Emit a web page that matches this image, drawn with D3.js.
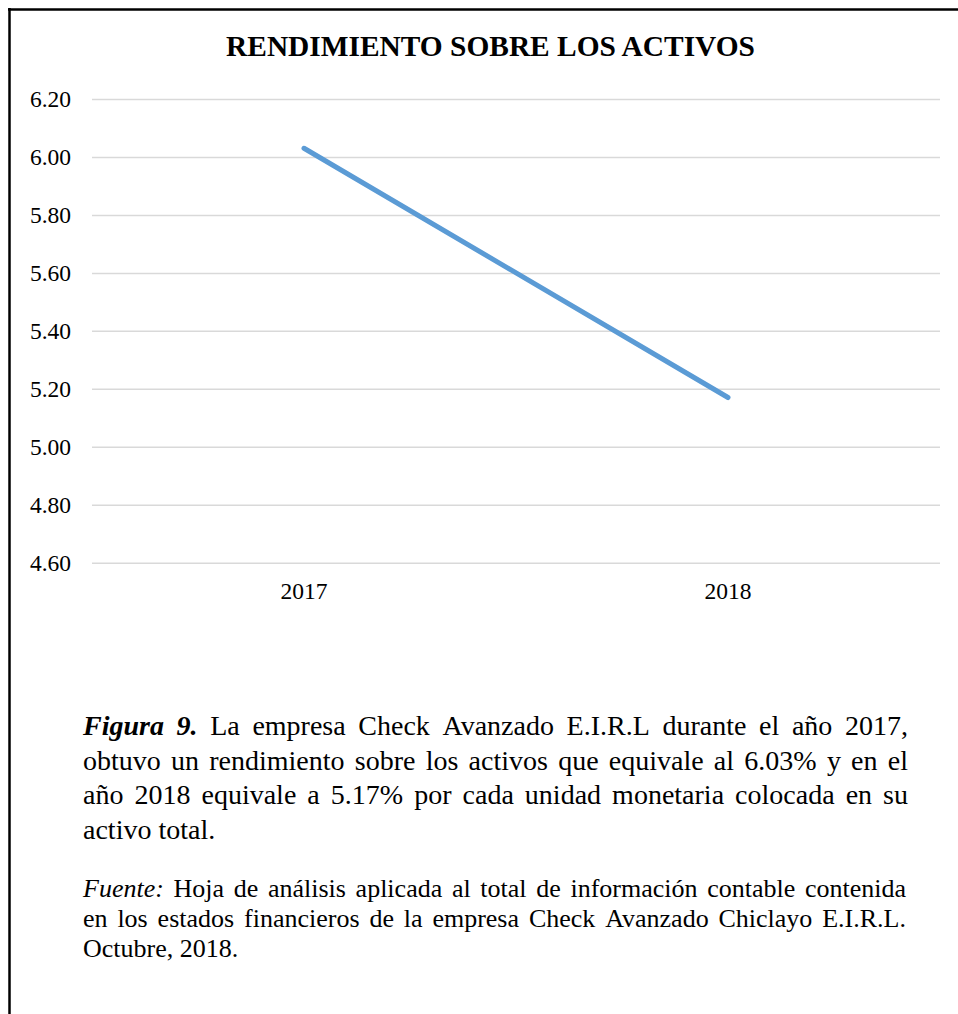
<!DOCTYPE html>
<html>
<head>
<meta charset="utf-8">
<script src="https://cdn.jsdelivr.net/npm/d3@7"></script>
<style>
  body { margin: 0; background: #fff; }
  svg text { font-family: "Liberation Serif", "Times New Roman", serif; fill: #000; }
</style>
</head>
<body>
<div id="chart"></div>
<script>
// Chart Data
const years = ["2017", "2018"];
const roa = [6.03, 5.17];
const yTicks = [4.6, 4.8, 5.0, 5.2, 5.4, 5.6, 5.8, 6.0, 6.2];
const title = "RENDIMIENTO SOBRE LOS ACTIVOS";

// Caption Lines (first words styled separately)
const captionLines = [
  "Figura 9. La empresa Check Avanzado E.I.R.L durante el año 2017,",
  "obtuvo un rendimiento sobre los activos que equivale al 6.03% y en el",
  "año 2018 equivale a 5.17% por cada unidad monetaria colocada en su",
  "activo total."
];
const sourceLines = [
  "Fuente: Hoja de análisis aplicada al total de información contable contenida",
  "en los estados financieros de la empresa Check Avanzado Chiclayo E.I.R.L.",
  "Octubre, 2018."
];

let w = 958, h = 1014;
let svg = d3.select("#chart").append("svg").attr("width", w).attr("height", h);

// Frame (top and left only)
svg.append("line").attr("x1", 8).attr("x2", w).attr("y1", 9.5).attr("y2", 9.5)
  .attr("stroke", "#000").attr("stroke-width", 2.5);
svg.append("line").attr("x1", 9.5).attr("x2", 9.5).attr("y1", 8).attr("y2", h)
  .attr("stroke", "#000").attr("stroke-width", 2.5);

// Scales
let x = d3.scaleBand().domain(years).range([92, 940]);
let y = d3.scaleLinear().domain([4.6, 6.2]).range([562.7, 99]);

// Title
svg.append("text").attr("x", 490.5).attr("y", 56).attr("text-anchor", "middle")
  .attr("font-weight", "bold").attr("font-size", 29.4).text(title);

// Gridlines + Y labels
let yAxis = d3.axisLeft(y).tickValues(yTicks).tickFormat(d3.format(".2f"))
  .tickSize(-(x.range()[1] - x.range()[0])).tickPadding(21);
let gy = svg.append("g").attr("transform", "translate(92,0)").call(yAxis)
  .attr("font-family", null).attr("font-size", 23.5);
gy.select(".domain").remove();
gy.selectAll(".tick line").attr("stroke", "#d9d9d9").attr("stroke-width", 1.5);
gy.selectAll(".tick text").attr("fill", "#000");

// X labels
let xAxis = d3.axisBottom(x).tickSize(0).tickPadding(20);
let gx = svg.append("g").attr("transform", "translate(0," + y(4.6) + ")").call(xAxis)
  .attr("font-family", null).attr("font-size", 23.5);
gx.select(".domain").remove();
gx.selectAll(".tick text").attr("fill", "#000");

// Series line
let line = d3.line().x((d, i) => x(years[i]) + x.bandwidth() / 2).y((d) => y(d));
svg.append("path").datum(roa).attr("d", line).attr("fill", "none")
  .attr("stroke", "#5b9bd5").attr("stroke-width", 5).attr("stroke-linecap", "round");

// Justified Paragraph Drawn Word By Word
function paragraph(lines, x0, x1, y0, lh, size, firstStyle) {
  let g = svg.append("g").attr("font-size", size);
  lines.forEach((t, li) => {
    let words = t.split(" ");
    let nodes = words.map((wd, wi) => {
      let el = g.append("text").attr("y", y0 + li * lh).text(wd);
      if (li == 0 && wi < firstStyle.count) {
        if (firstStyle.bold) el.attr("font-weight", "bold");
        el.attr("font-style", "italic");
      }
      return el;
    });
    let widths = nodes.map((n) => n.node().getComputedTextLength());
    let total = d3.sum(widths);
    let space = size * 0.25;
    let gap = (li < lines.length - 1 && words.length > 1) ? (x1 - x0 - total) / (words.length - 1) : space;
    let cx = x0;
    nodes.forEach((n, i) => { n.attr("x", cx); cx += widths[i] + gap; });
  });
}

paragraph(captionLines, 83, 908, 735, 34.5, 28, { count: 2, bold: true });
paragraph(sourceLines, 83, 906, 897, 30, 26, { count: 1, bold: false });
</script>
</body>
</html>
